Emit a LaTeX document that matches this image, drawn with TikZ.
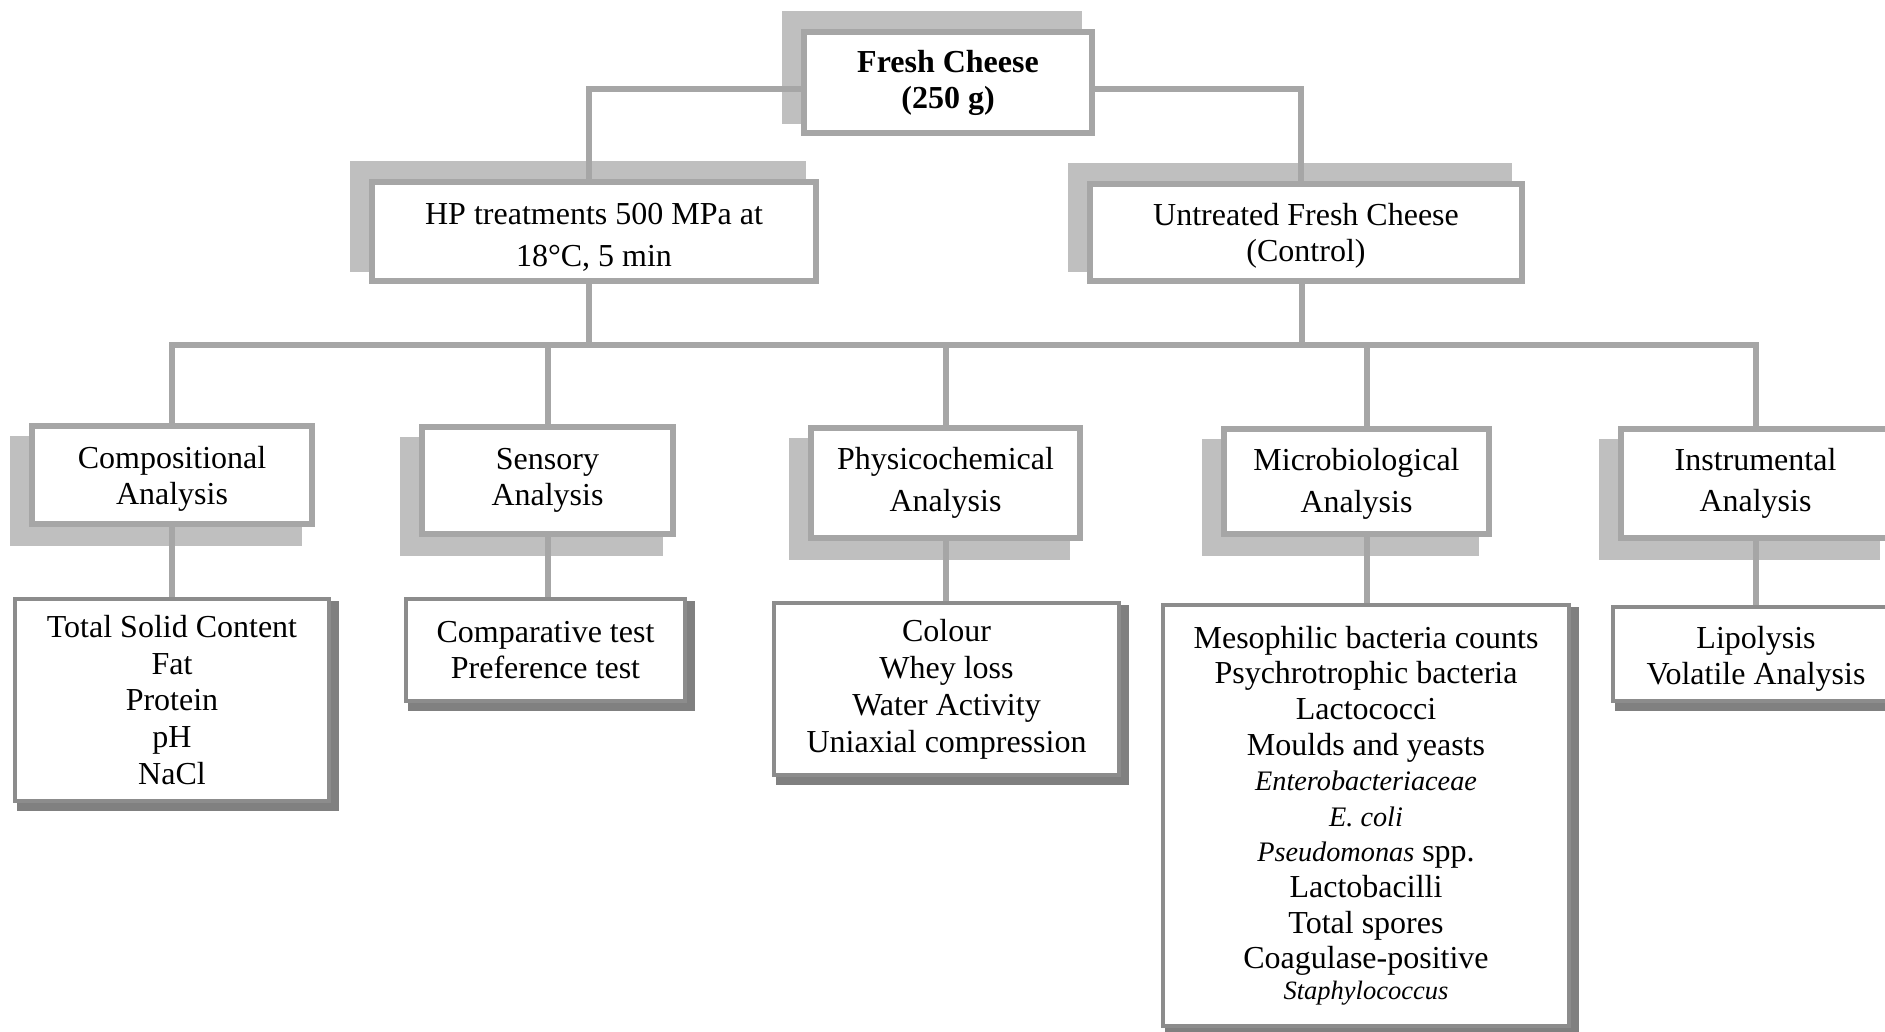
\documentclass[tikz,border=0pt]{standalone}
\usepackage{fontspec}
\setmainfont{Liberation Serif}
\pgfdeclarelayer{shadowlayer}
\pgfdeclarelayer{connlayer}
\pgfsetlayers{shadowlayer,connlayer,main}
\newcommand{\pxu}{0.4pt}
\newcommand{\fsn}{\fontsize{12.8pt}{14.4pt}\selectfont}
\newcommand{\fsw}{\fontsize{12.8pt}{16.6pt}\selectfont}
\newcommand{\fsi}{\fontsize{11.3pt}{14.4pt}\selectfont\itshape}
\newcommand{\fss}{\fontsize{10.6pt}{14.4pt}\selectfont\itshape}
\definecolor{bordc}{HTML}{A6A6A6}
\definecolor{shadc}{HTML}{BFBFBF}
\definecolor{lbordc}{HTML}{8C8C8C}
\definecolor{lshadc}{HTML}{808080}
\begin{document}
\begin{tikzpicture}[x=0.4pt,y=-0.4pt,
  sz/.style 2 args={minimum width=#1*\pxu, minimum height=#2*\pxu},
  tbox/.style={draw=bordc, line width=6*\pxu, fill=white, inner sep=0pt, align=center, font=\fsn},
  lbox/.style={draw=lbordc, line width=4*\pxu, fill=white, inner sep=0pt, align=center, font=\fsn},
  txt/.style={inner sep=0pt, align=center, font=\fsn},
  conn/.style={draw=bordc, line width=6*\pxu},
  tshad/.style={fill=shadc},
  lshad/.style={fill=lshadc}]
\useasboundingbox (0,0) rectangle (1885,1032);

% top level
\node[tbox, sz={288}{101}, font=\fsn\bfseries] (fc) at (948,82.5) {Fresh Cheese\\(250 g)};
\node[tbox, sz={444}{99}] (hp) at (594,231.5) {};
\node[txt, font=\fsw] (hp-t) at ([shift={(0,6)}]hp.center) {HP treatments 500 MPa at\\18°C, 5 min};
\node[tbox, sz={432}{97}] (ut) at (1306,232.5) {};
\node[txt] (ut-t) at ([shift={(0,3.5)}]ut.center) {Untreated Fresh Cheese\\(Control)};

% analysis row
\node[tbox, sz={280}{98}] (comp) at (172,475) {};
\node[txt] (comp-t) at ([shift={(0,3.5)}]comp.center) {Compositional\\Analysis};
\node[tbox, sz={251}{107}] (sens) at (547.5,480.5) {Sensory\\Analysis};
\node[tbox, sz={269}{110}, font=\fsw] (phys) at (945.5,483) {Physicochemical\\Analysis};
\node[tbox, sz={265}{105}] (micro) at (1356.5,481.5) {};
\node[txt, font=\fsw] (micro-t) at ([shift={(0,2.5)}]micro.center) {Microbiological\\Analysis};
\node[tbox, sz={269}{109}, font=\fsw] (instr) at (1755.5,483.5) {Instrumental\\Analysis};

% lower boxes
\node[lbox, sz={314}{202}, font={\fontsize{12.8pt}{14.7pt}\selectfont}] (ts) at (172,700) {Total Solid Content\\Fat\\Protein\\pH\\NaCl};
\node[lbox, sz={279}{102}] (ct) at (545.5,650) {Comparative test\\Preference test};
\node[lbox, sz={345}{172}, font={\fontsize{12.8pt}{14.8pt}\selectfont}] (col) at (946.5,689) {Colour\\Whey loss\\Water Activity\\Uniaxial compression};
\node[lbox, sz={406}{421}, font={\fontsize{12.8pt}{14.25pt}\selectfont}] (mic) at (1366,815.5) {Mesophilic bacteria counts\\Psychrotrophic bacteria\\Lactococci\\Moulds and yeasts\\{\fsi Enterobacteriaceae}\\{\fsi E. coli}\\{\fsi Pseudomonas} spp.\\Lactobacilli\\Total spores\\Coagulase-positive\\[-2pt]{\fss Staphylococcus}};
\node[lbox, sz={286}{94}] (lip) at (1756,654) {};
\node[txt] (lip-t) at ([shift={(0,4.5)}]lip.center) {Lipolysis\\Volatile Analysis};

\coordinate (bus) at (0,345);

% shadows
\begin{pgfonlayer}{shadowlayer}
\foreach \n in {fc,hp,ut}{
  \fill[tshad] ([shift={(-19,-18)}]\n.north west) rectangle ([shift={(-13,-12)}]\n.south east);
}
\foreach \n in {comp,sens,phys,micro,instr}{
  \fill[tshad] ([shift={(-19,13)}]\n.north west) rectangle ([shift={(-13,19)}]\n.south east);
}
\foreach \n in {ts,ct,col,mic,lip}{
  \fill[lshad] ([shift={(4,4)}]\n.north west) rectangle ([shift={(8,8)}]\n.south east);
}
\end{pgfonlayer}

% connectors
\begin{pgfonlayer}{connlayer}
\draw[conn] ([shift={(0,6.5)}]fc.west) -| ([xshift=-2pt]hp.north);
\draw[conn] ([shift={(0,6.5)}]fc.east) -| ([xshift=-2pt]ut.north);
\draw[conn] ([xshift=-2pt]hp.south) -- ([xshift=-2pt]hp.south |- bus);
\draw[conn] ([xshift=-1.5pt]ut.south) -- ([xshift=-1.5pt]ut.south |- bus);
\draw[conn] (comp.north) -- (comp.north |- bus) -- (instr.north |- bus) -- (instr.north);
\draw[conn] (sens.north |- bus) -- (sens.north);
\draw[conn] (phys.north |- bus) -- (phys.north);
\draw[conn] ([xshift=4pt]micro.north |- bus) -- ([xshift=4pt]micro.north);
\draw[conn] (comp.south) -- (ts.north);
\draw[conn] (sens.south) -- (sens.south |- ct.north);
\draw[conn] (phys.south) -- (phys.south |- col.north);
\draw[conn] ([xshift=4pt]micro.south) -- ([xshift=4pt]micro.south |- mic.north);
\draw[conn] (instr.south) -- (instr.south |- lip.north);
\end{pgfonlayer}
\end{tikzpicture}
\end{document}
